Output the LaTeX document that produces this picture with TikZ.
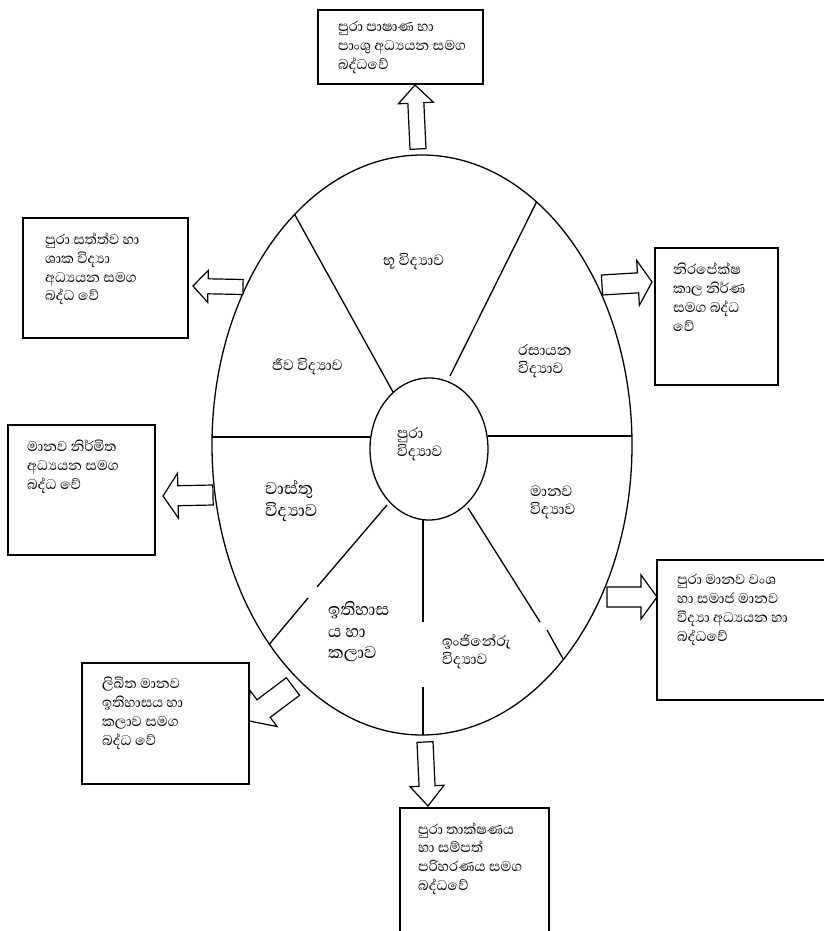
\documentclass[tikz,border=0pt]{standalone}
\usepackage{fontspec}
\newfontfamily\sinhalafont[Script=Sinhala]{Abhaya Libre}
\usetikzlibrary{calc}
\newcommand\blockarr[5]{%
  \coordinate (ah) at ($(#2)!#5pt!(#1)$);
  \draw[arrowshape] ($(#1)!#3pt!90:(#2)$) -- ($(ah)!#3pt!-90:(#1)$) -- ($(ah)!#4pt!-90:(#1)$) -- (#2)
     -- ($(ah)!#4pt!90:(#1)$) -- ($(ah)!#3pt!90:(#1)$) -- ($(#1)!#3pt!-90:(#2)$) -- cycle;}
\tikzset{
  outline/.style={line width=1.3pt, black},
  boxline/.style={line width=1.5pt, black, fill=white},
  arrowshape/.style={line width=1.2pt, fill=white, line join=miter},
  boxtxt/.style={anchor=west, align=left, inner sep=0pt, font=\sinhalafont\fontsize{18}{18.8}\selectfont},
  lbl/.style={anchor=west, align=left, inner sep=0pt, font=\sinhalafont\fontsize{19}{18}\selectfont},
  biglbl/.style={anchor=west, align=left, inner sep=0pt, font=\sinhalafont\fontsize{22}{21.5}\selectfont},
}
\begin{document}
\begin{tikzpicture}[x=1pt,y=-1pt]
\useasboundingbox (0,0) rectangle (824,931);
% wheel
\draw[outline] (422,445) ellipse [x radius=210, y radius=290];
\begin{scope}
  \clip (422,445) ellipse [x radius=210, y radius=290];
  \draw[outline] (393,392) -- (280,188);
  \draw[outline] (450,376) -- (545,185);
  \draw[outline] (205,437) -- (370,437);
  \draw[outline] (488,436) -- (640,436);
  \draw[outline] (387,505) -- (317,587);
  \draw[outline] (308,598) -- (262,653);
  \draw[outline] (423,519) -- (423,622);
  \draw[outline] (423,687) -- (423,745);
  \draw[outline] (468,508) -- (540,622);
  \draw[outline] (547,630) -- (572,675);
\end{scope}
\draw[outline] (429,449) ellipse [x radius=59, y radius=71];
% sector labels
\node[lbl] (bhu) at (383,262) {භූ විද්‍යාව};
\node[lbl] (jiva) at (272,367) {ජීව විද්‍යාව};
\node[lbl] (rasa) at (518,361) {රසායන\\විද්‍යාව};
\node[lbl] (pura) at (397,444) {පුරා\\විද්‍යාව};
\node[biglbl] (vastu) at (265,501) {වාස්තු\\විද්‍යාව};
\node[lbl] (manava) at (530,502) {මානව\\විද්‍යාව};
\node[biglbl] (itihasa) at (328,632) {ඉතිහාස\\ය හා\\කලාව};
\node[lbl] (ingi) at (442,652) {ඉංජිනේරු\\විද්‍යාව};
% arrows
\coordinate (a1t) at (418,149); \coordinate (a1h) at (415,85);
\coordinate (a2t) at (243,287); \coordinate (a2h) at (193,286);
\coordinate (a3t) at (602,285); \coordinate (a3h) at (652,282);
\coordinate (a4t) at (213,495); \coordinate (a4h) at (163,496);
\coordinate (a5t) at (607,597); \coordinate (a5h) at (657,597);
\coordinate (a6t) at (293,686.5); \coordinate (a6h) at (247.6,720.6);
\coordinate (a7t) at (425,742); \coordinate (a7h) at (428,806);
\blockarr{a1t}{a1h}{8}{17.5}{18}
\blockarr{a2t}{a2h}{7.5}{16}{15}
\blockarr{a3t}{a3h}{10}{22.5}{14}
\blockarr{a4t}{a4h}{10}{22.5}{15}
\blockarr{a5t}{a5h}{10}{22}{16}
\blockarr{a6t}{a6h}{11}{22.5}{20}
\blockarr{a7t}{a7h}{8}{17}{20}
% boxes
\draw[boxline] (318,10) rectangle (483,84);
\draw[boxline] (23,218) rectangle (188,338);
\draw[boxline] (655,248) rectangle (778,385);
\draw[boxline] (8,425) rectangle (155,555);
\draw[boxline] (824,560) -- (657,560) -- (657,700) -- (824,700);
\draw[boxline] (82,663) rectangle (249,784);
\draw[boxline] (400,931) -- (400,808) -- (549,808) -- (549,931);
% box texts
\node[boxtxt] (ttop) at (338,47.5) {පුරා පාෂාණ හා\\පාංශු අධ්‍යයන සමග\\බද්ධවේ};
\node[boxtxt] (tl1) at (45,269) {පුරා සත්ත්ව හා\\ශාක විද්‍යා\\අධ්‍යයන සමග\\බද්ධ වේ};
\node[boxtxt] (tr1) at (673,297) {නිරපේක්ෂ\\කාල නිර්ණ\\සමග බද්ධ\\වේ};
\node[boxtxt] (tl2) at (27,466.5) {මානව නිර්මිත\\අධ්‍යයන සමග\\බද්ධ වේ};
\node[boxtxt] (tr2) at (677,610) {පුරා මානව වංශ\\හා සමාජ මානව\\විද්‍යා අධ්‍යයන හා\\බද්ධවේ};
\node[boxtxt] (tdl) at (102,713.5) {ලිඛිත මානව\\ඉතිහාසය හා\\කලාව සමග\\බද්ධ වේ};
\node[boxtxt] (tbot) at (418,858.5) {පුරා තාක්ෂණය\\හා සම්පත්\\පරිහරණය සමග\\බද්ධවේ};
\end{tikzpicture}
\end{document}
